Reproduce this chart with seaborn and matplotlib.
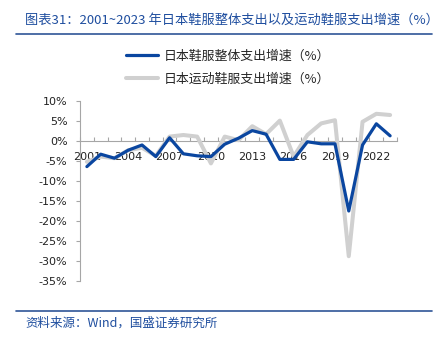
import numpy as np
import pandas as pd
import matplotlib
matplotlib.use("Agg")
import matplotlib.pyplot as plt
from matplotlib.lines import Line2D
import seaborn as sns

# ---- data ----
years = list(range(2001, 2024))
total_growth = [-6.4, -3.3, -4.3, -2.3, -1.0, -3.9, 0.8, -3.2, -3.7, -3.9, -0.8, 0.7,
                2.6, 1.7, -4.6, -4.6, -0.2, -0.7, -0.7, -17.5, -1.0, 4.3, 1.3]
sports_growth = [-5.2, -3.9, -4.3, -2.3, -1.7, -3.7, 1.1, 1.5, 1.1, -5.6, 1.1, 0.2,
                 3.7, 1.7, 5.1, -3.9, 1.5, 4.4, 5.2, -28.8, 4.8, 6.8, 6.5]
series_names = ["日本鞋服整体支出增速（%）", "日本运动鞋服支出增速（%）"]
xtick_years = [2001, 2004, 2007, 2010, 2013, 2016, 2019, 2022]
ytick_values = [10, 5, 0, -5, -10, -15, -20, -25, -30, -35]
ytick_labels = ["10%", "5%", "0%", "-5%", "-10%", "-15%", "-20%", "-25%", "-30%", "-35%"]
title_text = "图表31：2001~2023 年日本鞋服整体支出以及运动鞋服支出增速（%）"
source_text = "资料来源：Wind，国盛证券研究所"

df = pd.DataFrame({"year": years * 2,
                   "value": total_growth + sports_growth,
                   "series": [series_names[0]] * len(years) + [series_names[1]] * len(years)})

sns.set_theme(style="white")
plt.rcParams['font.family'] = ['Noto Sans CJK SC', 'DejaVu Sans']

BLUE = "#0A46A0"
GREY = "#D0D0D0"
TEXT_BLUE = "#1F4E9F"
AX_GREY = "#A6A6A6"

fig = plt.figure(figsize=(4.44, 3.38), dpi=100)
ax = fig.add_axes([80/444, 1-281/338, 317/444, 180/338])

sns.lineplot(data=df[df.series == series_names[0]], x="year", y="value", ax=ax,
             color=BLUE, linewidth=2.3, legend=False, zorder=3)
sns.lineplot(data=df[df.series == series_names[1]], x="year", y="value", ax=ax,
             color=GREY, linewidth=2.9, legend=False, zorder=2)
for ln in ax.get_lines():
    ln.set_solid_joinstyle("round")

ax.set_xlim(2000.5, 2023.5)
ax.set_ylim(-35, 10)
ax.set_xlabel("")
ax.set_ylabel("")

for s in ["top", "right"]:
    ax.spines[s].set_visible(False)
ax.spines["left"].set_color(AX_GREY)
ax.spines["left"].set_linewidth(0.8)
ax.spines["bottom"].set_position(("data", 0))
ax.spines["bottom"].set_color(AX_GREY)
ax.spines["bottom"].set_linewidth(0.8)
ax.spines["bottom"].set_zorder(1)

ax.set_yticks(ytick_values)
ax.set_yticklabels(ytick_labels, family="DejaVu Sans")
ax.tick_params(axis="y", direction="out", length=3, width=0.8, color=AX_GREY,
               pad=6, labelsize=8, labelcolor="#222222", left=True)

ax.set_xticks(xtick_years)
ax.set_xticklabels([str(y) for y in xtick_years], family="DejaVu Sans")
ax.set_xticks(np.arange(2000.5, 2024.0, 1.0), minor=True)
ax.tick_params(axis="x", which="major", length=0, pad=8, labelsize=8, labelcolor="#222222")
ax.tick_params(axis="x", which="minor", direction="in", length=3, width=0.8,
               color=AX_GREY, bottom=True)
ax.grid(False)

# legend
handles = [Line2D([], [], color=BLUE, linewidth=2.3),
           Line2D([], [], color=GREY, linewidth=2.9)]
fig.legend(handles, series_names, loc="upper left", bbox_to_anchor=(126/444, 1-50/338),
           frameon=False, fontsize=9.3, handlelength=2.5, handletextpad=0.45,
           labelspacing=0.72, borderaxespad=0, borderpad=0)

# title and source
fig.text(25/444, 1-20/338, title_text, color=TEXT_BLUE, fontsize=9.5, va="center", ha="left")
fig.add_artist(Line2D([16/444, 432/444], [1-34/338, 1-34/338], color="#2F5597", linewidth=1.2))
fig.add_artist(Line2D([16/444, 432/444], [1-311/338, 1-311/338], color="#2F5597", linewidth=1.2))
fig.text(25/444, 1-323/338, source_text, color=TEXT_BLUE, fontsize=9, va="center", ha="left")

fig.savefig("out.png", dpi=100)
